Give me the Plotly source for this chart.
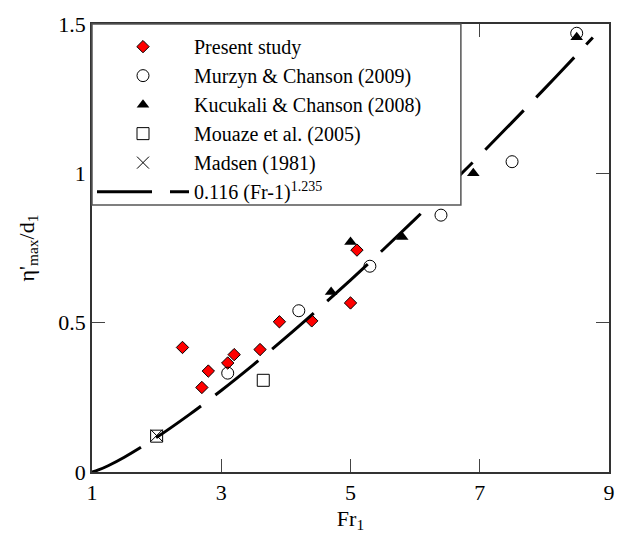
import plotly.graph_objects as go

# ---- data ----
present_fr = [2.4, 2.7, 2.8, 3.1, 3.2, 3.6, 3.9, 4.4, 5.0, 5.1]
present_eta = [0.417, 0.283, 0.338, 0.365, 0.393, 0.41, 0.503, 0.506, 0.566, 0.743]

murzyn_fr = [3.1, 4.2, 5.3, 6.4, 7.5, 8.5]
murzyn_eta = [0.331, 0.54, 0.689, 0.86, 1.039, 1.469]

kucukali_fr = [4.7, 5.0, 5.8, 6.9, 8.5]
kucukali_eta = [0.603, 0.77, 0.787, 1.0, 1.456]

mouaze_fr = [2.0, 3.65]
mouaze_eta = [0.12, 0.307]

madsen_fr = [2.0]
madsen_eta = [0.122]

fit_fr = [1.0, 1.1, 1.25, 1.5, 2.0, 2.5, 3.0, 3.5, 4.0, 4.5, 5.0, 5.5, 6.0, 6.5, 7.0, 7.5, 8.0, 8.5, 8.75]
fit_eta = [0.0, 0.0068, 0.0209, 0.0493, 0.116, 0.1914, 0.273, 0.3597, 0.4505, 0.5451, 0.6427,
           0.7433, 0.8466, 0.9525, 1.0605, 1.1706, 1.2829, 1.397, 1.455]

x_ticks = [1, 3, 5, 7, 9]
y_ticks = [0, 0.5, 1, 1.5]
y_tick_text = ["0", "0.5", "1", "1.5"]

FONT = "Liberation Serif, Times New Roman, serif"

fig = go.Figure()
fig.add_trace(go.Scatter(
    x=present_fr, y=present_eta, mode="markers", name="Present study",
    marker=dict(symbol="diamond", size=9.5, color="#ff0000", line=dict(color="black", width=1))))
fig.add_trace(go.Scatter(
    x=murzyn_fr, y=murzyn_eta, mode="markers", name="Murzyn & Chanson (2009)",
    marker=dict(symbol="circle-open", size=12, color="black", line=dict(color="black", width=1))))
fig.add_trace(go.Scatter(
    x=kucukali_fr, y=kucukali_eta, mode="markers", name="Kucukali & Chanson (2008)",
    marker=dict(symbol="triangle-up", size=11, color="black", line=dict(width=0))))
fig.add_trace(go.Scatter(
    x=mouaze_fr, y=mouaze_eta, mode="markers", name="Mouaze et al. (2005)",
    marker=dict(symbol="square-open", size=12, color="black", line=dict(color="black", width=1))))
fig.add_trace(go.Scatter(
    x=madsen_fr, y=madsen_eta, mode="markers", name="Madsen (1981)",
    marker=dict(symbol="x-thin-open", size=12, color="black", line=dict(color="black", width=1))))
fig.add_trace(go.Scatter(
    x=fit_fr, y=fit_eta, mode="lines", name="0.116 (Fr-1)<sup>1.235</sup>",
    line=dict(color="black", width=3, dash="55px,18px", shape="spline")))

# legend frame box (white, covers the data under the legend)
fig.add_shape(type="rect", xref="paper", yref="paper", x0=0, x1=0.7135, y0=0.596, y1=1.0,
              fillcolor="white", line=dict(color="#555555", width=1.5), layer="above")

fig.update_layout(
    width=627, height=539,
    margin=dict(l=92, r=15, t=19, b=67),
    plot_bgcolor="white", paper_bgcolor="white",
    font=dict(family=FONT, size=22, color="black"),
    showlegend=True,
    legend=dict(x=0, y=0.993, xanchor="left", yanchor="top", bgcolor="rgba(0,0,0,0)",
                borderwidth=0, font=dict(family=FONT, size=20, color="black"),
                itemwidth=92, tracegroupgap=0),
    xaxis=dict(range=[1, 9], tickvals=x_ticks, ticktext=[str(v) for v in x_ticks],
               ticks="inside", ticklen=13, tickwidth=1, tickcolor="#444444",
               showline=True, linecolor="#333333", linewidth=1.5, mirror="ticks",
               showgrid=False, zeroline=False,
               title=dict(text="Fr<sub>1</sub>", font=dict(family=FONT, size=22, color="black"), standoff=6),
               tickfont=dict(family=FONT, size=22, color="black")),
    yaxis=dict(range=[0, 1.5], tickvals=y_ticks, ticktext=y_tick_text,
               ticks="inside", ticklen=13, tickwidth=1, tickcolor="#444444",
               showline=True, linecolor="#333333", linewidth=1.5, mirror="ticks",
               showgrid=False, zeroline=False,
               title=dict(text="η'<sub>max</sub>/d<sub>1</sub>", font=dict(family=FONT, size=22, color="black"), standoff=18),
               tickfont=dict(family=FONT, size=22, color="black")),
)

fig.write_html("out.html")
